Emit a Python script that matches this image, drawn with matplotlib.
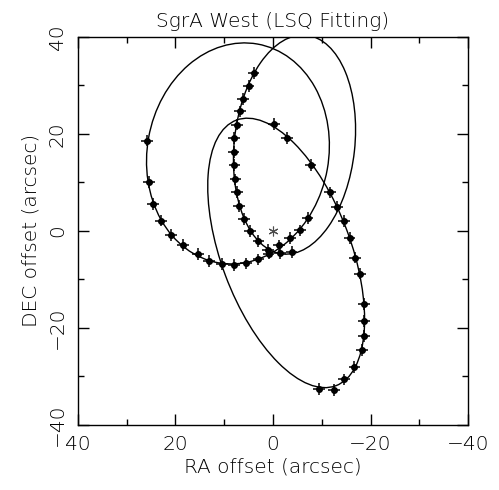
import numpy as np
import matplotlib
matplotlib.use("Agg")
import matplotlib.pyplot as plt
from matplotlib.patches import Ellipse
from matplotlib.ticker import MultipleLocator

# measured positions (arcsec), three arcs
ra_a = [25.8, 25.4, 24.6, 23.0, 20.9, 18.4, 15.4, 13.1, 10.5, 8.0, 5.5, 3.0, 0.9, -1.2, -3.5, -5.6, -7.1]
dec_a = [18.6, 10.0, 5.5, 2.1, -0.9, -2.9, -4.8, -6.2, -6.8, -7.0, -6.7, -5.9, -4.7, -3.0, -1.5, 0.1, 2.6]
ra_b = [4.0, 5.0, 6.1, 6.8, 7.4, 8.0, 8.1, 7.9, 7.7, 7.4, 7.0, 5.9, 4.7, 3.0, 1.0, -1.4, -3.8]
dec_b = [32.5, 29.8, 27.2, 24.6, 21.9, 19.1, 16.2, 13.6, 10.6, 8.0, 5.1, 2.5, 0.0, -2.1, -3.9, -4.6, -4.3]
ra_c = [-0.2, -2.9, -7.7, -11.7, -13.1, -14.6, -15.7, -16.8, -17.8, -18.7, -18.7, -18.6, -18.2, -16.7, -14.6, -12.5, -9.5]
dec_c = [22.0, 19.1, 13.6, 7.9, 5.0, 2.0, -1.5, -5.5, -8.8, -15.1, -18.6, -21.7, -24.5, -28.0, -30.6, -32.8, -32.6]
err = 1.2

# fitted ellipses: centre RA, centre DEC, width, height, angle (deg)
ell_ra = [7.19, -4.41, -2.70]
ell_dec = [15.95, 17.77, -4.55]
ell_w = [45.78, 24.72, 26.59]
ell_h = [37.22, 45.34, 58.40]
ell_ang = [-79.9, -173.8, 159.6]

plt.rcParams['font.family'] = 'DejaVu Sans'
plt.rcParams['font.weight'] = 'light'

fig = plt.figure(figsize=(4.99, 4.90), dpi=100)
ax = fig.add_axes([0.1563, 0.1327, 0.7816, 0.7924])

for i in range(3):
    ax.add_patch(Ellipse((ell_ra[i], ell_dec[i]), ell_w[i], ell_h[i], angle=ell_ang[i],
                         fill=False, color='k', lw=1.0))

for ra, dec in [(ra_a, dec_a), (ra_b, dec_b), (ra_c, dec_c)]:
    ax.errorbar(ra, dec, xerr=err, yerr=err, fmt='o', color='k', ms=4.0,
                elinewidth=1.1, capsize=0)

# SgrA* position
ax.plot([0], [0], marker=(6, 2, 0), color='0.3', ms=7, mew=0.8, ls='none')

ax.set_xlim(40, -40)
ax.set_ylim(-40, 40)
ax.xaxis.set_major_locator(MultipleLocator(20))
ax.xaxis.set_minor_locator(MultipleLocator(10))
ax.yaxis.set_major_locator(MultipleLocator(20))
ax.yaxis.set_minor_locator(MultipleLocator(10))
ax.tick_params(which='both', direction='in', top=True, right=True, width=1.0)
ax.tick_params(which='major', length=8, labelsize=14.5)
ax.tick_params(axis='x', which='major', pad=7)
ax.tick_params(axis='y', which='major', pad=8)
ax.tick_params(which='minor', length=4)
for lab in ax.get_yticklabels():
    lab.set_rotation(90)
    lab.set_va('center')
for s in ax.spines.values():
    s.set_linewidth(1.0)

ax.set_title("SgrA West (LSQ Fitting)", fontsize=14.5, pad=7, fontweight='light')
ax.set_xlabel("RA offset (arcsec)", fontsize=14.5, labelpad=3, fontweight='light')
ax.set_ylabel("DEC offset (arcsec)", fontsize=14.5, labelpad=5, fontweight='light')

fig.savefig("out.png")
